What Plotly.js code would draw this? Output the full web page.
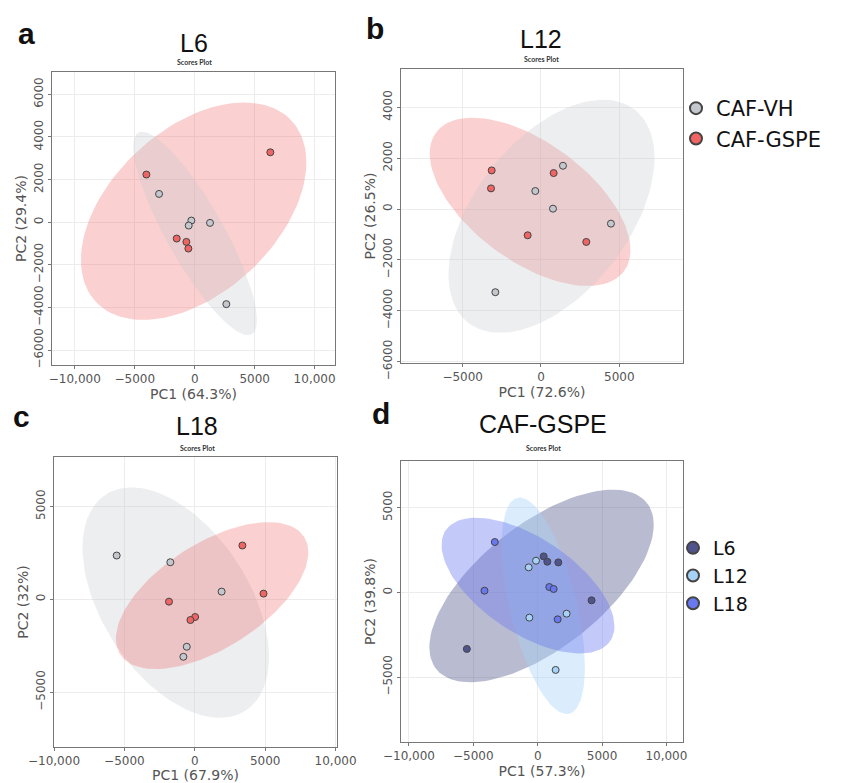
<!DOCTYPE html>
<html><head><meta charset="utf-8">
<script src="https://cdn.plot.ly/plotly-3.0.1.min.js"></script>
<style>html,body{margin:0;padding:0;background:#fff}</style>
</head><body><div id="chart" style="width:841px;height:783px"></div>
<script>
// ---------- data ----------
const groupsAB = ["CAF-VH", "CAF-GSPE"];
const groupsD = ["L6", "L12", "L18"];
const panelTitles = ["L6", "L12", "L18", "CAF-GSPE"];
const xTitles = ["PC1 (64.3%)", "PC1 (72.6%)", "PC1 (67.9%)", "PC1 (57.3%)"];
const yTitles = ["PC2 (29.4%)", "PC2 (26.5%)", "PC2 (32%)", "PC2 (39.8%)"];

// panel a : L6
const a_VH_pc1 = [-2972, -278, -500, 1278, 2639];
const a_VH_pc2 = [1328, 78, -156, -31, -3844];
const a_GSPE_pc1 = [-4028, 6306, -1500, -694, -528];
const a_GSPE_pc2 = [2237, 3281, -766, -922, -1234];
// panel b : L12
const b_VH_pc1 = [1404, -362, 766, 4468, -2915];
const b_VH_pc2 = [1699, 706, 13, -575, -3268];
const b_GSPE_pc1 = [-3149, -3191, 809, -851, 2894];
const b_GSPE_pc2 = [1516, 810, 1412, -1033, -1294];
// panel c : L18
const c_VH_pc1 = [-5548, -1738, 1905, -571, -810];
const c_VH_pc2 = [2356, 1996, 414, -2554, -3094];
const c_GSPE_pc1 = [3381, 4881, -1833, 24, -310];
const c_GSPE_pc2 = [2896, 306, -126, -953, -1115];
// panel d : CAF-GSPE
const d_L6_pc1 = [-5504, 465, 749, 1602, 4186];
const d_L6_pc2 = [-3340, 2122, 1808, 1768, -472];
const d_L12_pc1 = [-698, -129, -646, 2248, 1395];
const d_L12_pc2 = [1474, 1867, -1493, -1258, -4578];
const d_L18_pc1 = [-3333, -4134, 904, 1240, 1550];
const d_L18_pc2 = [2967, 98, 314, 197, -1592];

// ---------- styling ----------
const W = 841, H = 783;
const px = v => v / W, py = v => 1 - v / H;
const colVH = [196, 200, 206], colGSPE = [240, 100, 100];
const colL6 = [80, 84, 140], colL12 = [166, 210, 247], colL18 = [104, 120, 240];
const rgb = c => `rgb(${c[0]},${c[1]},${c[2]})`;
const rgba = (c, a) => `rgba(${c[0]},${c[1]},${c[2]},${a})`;

// 95% confidence ellipse from sample covariance
function ellipse(xs, ys) {
  const n = xs.length;
  const mx = xs.reduce((s, v) => s + v, 0) / n, my = ys.reduce((s, v) => s + v, 0) / n;
  let sxx = 0, syy = 0, sxy = 0;
  for (let i = 0; i < n; i++) { sxx += (xs[i]-mx)**2; syy += (ys[i]-my)**2; sxy += (xs[i]-mx)*(ys[i]-my); }
  sxx /= (n-1); syy /= (n-1); sxy /= (n-1);
  const sx = Math.sqrt(sxx), sy = Math.sqrt(syy), r = sxy / (sx*sy);
  const t = Math.sqrt(5.991464547);
  const ex = [], ey = [];
  for (let k = 0; k <= 120; k++) {
    const th = 2*Math.PI*k/120;
    ex.push(mx + t*sx*Math.cos(th));
    ey.push(my + t*sy*(r*Math.cos(th) + Math.sqrt(1-r*r)*Math.sin(th)));
  }
  return {x: ex, y: ey};
}

const traces = [];
function addGroup(xs, ys, col, alpha, ax) {
  const e = ellipse(xs, ys);
  traces.push({x: e.x, y: e.y, xaxis: 'x'+ax, yaxis: 'y'+ax, mode: 'lines', fill: 'toself',
    fillcolor: rgba(col, alpha), line: {width: 0, color: rgba(col, 0)}, hoverinfo: 'skip', showlegend: false});
}
function addPoints(xs, ys, name, col, ax, legend, showleg) {
  traces.push({x: xs, y: ys, xaxis: 'x'+ax, yaxis: 'y'+ax, mode: 'markers', name: name,
    legend: legend, showlegend: showleg, legendgroup: legend + name,
    marker: {size: 7, color: rgb(col), line: {width: 1, color: '#444'}}});
}
// ellipses first
addGroup(a_GSPE_pc1, a_GSPE_pc2, colGSPE, 0.3, '');
addGroup(a_VH_pc1, a_VH_pc2, colVH, 0.3, '');
addGroup(b_GSPE_pc1, b_GSPE_pc2, colGSPE, 0.3, '2');
addGroup(b_VH_pc1, b_VH_pc2, colVH, 0.3, '2');
addGroup(c_VH_pc1, c_VH_pc2, colVH, 0.3, '3');
addGroup(c_GSPE_pc1, c_GSPE_pc2, colGSPE, 0.3, '3');
addGroup(d_L6_pc1, d_L6_pc2, colL6, 0.4, '4');
addGroup(d_L12_pc1, d_L12_pc2, colL12, 0.4, '4');
addGroup(d_L18_pc1, d_L18_pc2, colL18, 0.4, '4');
// points
addPoints(a_VH_pc1, a_VH_pc2, groupsAB[0], colVH, '', 'legend', true);
addPoints(a_GSPE_pc1, a_GSPE_pc2, groupsAB[1], colGSPE, '', 'legend', true);
addPoints(b_VH_pc1, b_VH_pc2, groupsAB[0], colVH, '2', 'legend', false);
addPoints(b_GSPE_pc1, b_GSPE_pc2, groupsAB[1], colGSPE, '2', 'legend', false);
addPoints(c_VH_pc1, c_VH_pc2, groupsAB[0], colVH, '3', 'legend', false);
addPoints(c_GSPE_pc1, c_GSPE_pc2, groupsAB[1], colGSPE, '3', 'legend', false);
addPoints(d_L6_pc1, d_L6_pc2, groupsD[0], colL6, '4', 'legend2', true);
addPoints(d_L12_pc1, d_L12_pc2, groupsD[1], colL12, '4', 'legend2', true);
addPoints(d_L18_pc1, d_L18_pc2, groupsD[2], colL18, '4', 'legend2', true);

const tickFont = {family: 'DejaVu Sans', size: 12, color: '#555'};
const titleFont = {family: 'DejaVu Sans', size: 14, color: '#555'};
function xax(dom, range, dtick, title) {
  return {domain: [px(dom[0]), px(dom[1])], range: range, dtick: dtick, tick0: 0, showline: true, mirror: true,
    linecolor: '#777', linewidth: 1, gridcolor: '#ececec', zeroline: false, ticks: 'outside', ticklen: 3,
    tickcolor: '#777', tickfont: tickFont, exponentformat: 'none', automargin: false,
    title: {text: title, font: titleFont, standoff: 3}};
}
function yax(dom, range, dtick, title) {
  return {domain: [py(dom[1]), py(dom[0])], range: range, dtick: dtick, tick0: 0, showline: true, mirror: true,
    linecolor: '#777', linewidth: 1, gridcolor: '#ececec', zeroline: false, ticks: 'outside', ticklen: 3,
    tickcolor: '#777', tickfont: tickFont, tickangle: -90, exponentformat: 'none', automargin: false,
    title: {text: title, font: titleFont, standoff: 2}};
}

const layout = {
  width: W, height: H, margin: {l: 0, r: 0, t: 0, b: 0}, paper_bgcolor: '#fff', plot_bgcolor: '#fff',
  xaxis: xax([52, 335], [-11900, 11700], 5000, xTitles[0]),
  yaxis: yax([72, 365], [-6700, 7050], 2000, yTitles[0]),
  xaxis2: Object.assign(xax([401, 683], [-8940, 9070], 5000, xTitles[1]), {anchor: 'y2'}),
  yaxis2: Object.assign(yax([69, 363], [-6050, 5500], 2000, yTitles[1]), {anchor: 'x2'}),
  xaxis3: Object.assign(xax([54, 337], [-10000, 10100], 5000, xTitles[2]), {anchor: 'y3'}),
  yaxis3: Object.assign(yax([457, 747], [-7950, 7660], 5000, yTitles[2]), {anchor: 'x3'}),
  xaxis4: Object.assign(xax([401, 683], [-10620, 11290], 5000, xTitles[3]), {anchor: 'y4'}),
  yaxis4: Object.assign(yax([461, 742], [-8830, 7750], 5000, yTitles[3]), {anchor: 'x4'}),
  legend: {x: px(676), y: py(88), xanchor: 'left', yanchor: 'top', bgcolor: 'rgba(0,0,0,0)',
    font: {family: 'DejaVu Sans', size: 21, color: '#111'}, itemsizing: 'constant', tracegroupgap: 0},
  legend2: {x: px(673), y: py(529), xanchor: 'left', yanchor: 'top', bgcolor: 'rgba(0,0,0,0)',
    font: {family: 'DejaVu Sans', size: 19, color: '#111'}, itemsizing: 'constant', tracegroupgap: 0},
  annotations: []
};
const ann = layout.annotations;
const letters = [['a', 26, 33], ['b', 375, 29], ['c', 21, 416], ['d', 381, 413]];
letters.forEach(l => ann.push({text: '<b>' + l[0] + '</b>', x: px(l[1]), y: py(l[2]), xref: 'paper', yref: 'paper',
  xanchor: 'center', yanchor: 'middle', showarrow: false, font: {family: 'Liberation Sans', size: 30, color: '#111'}}));
const tpos = [[194, 43, 62], [541, 39, 59], [197, 426, 448], [543, 424, 448]];
tpos.forEach((t, i) => {
  ann.push({text: panelTitles[i], x: px(t[0]), y: py(t[1]), xref: 'paper', yref: 'paper', showarrow: false,
    xanchor: 'center', yanchor: 'middle', font: {family: 'Liberation Sans', size: 25, color: '#111'}});
  ann.push({text: '<b>Scores Plot</b>', x: px(t[0]), y: py(t[2]), xref: 'paper', yref: 'paper', showarrow: false,
    xanchor: 'center', yanchor: 'middle', font: {family: 'Lato', size: 7, color: '#333'}});
});
Plotly.newPlot('chart', traces, layout, {displayModeBar: false, staticPlot: true});
</script></body></html>
